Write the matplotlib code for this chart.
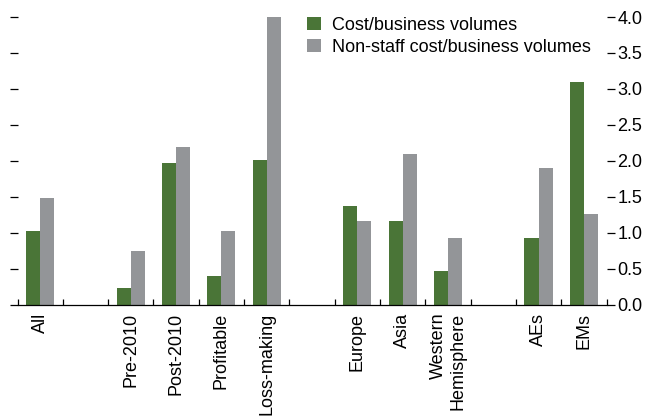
import matplotlib
matplotlib.use("Agg")
import matplotlib.pyplot as plt
import numpy as np

plt.rcParams['font.family'] = ['Liberation Sans Narrow', 'Liberation Sans', 'DejaVu Sans']

categories = ["All", "", "Pre-2010", "Post-2010", "Profitable", "Loss-making", "",
              "Europe", "Asia", "Western\nHemisphere", "", "AEs", "EMs"]
cost = [1.02, np.nan, 0.23, 1.97, 0.40, 2.01, np.nan, 1.37, 1.16, 0.46, np.nan, 0.92, 3.09]
nonstaff = [1.48, np.nan, 0.74, 2.19, 1.02, 4.00, np.nan, 1.16, 2.09, 0.92, np.nan, 1.90, 1.26]
yticks = [0.0, 0.5, 1.0, 1.5, 2.0, 2.5, 3.0, 3.5, 4.0]
series_names = ["Cost/business volumes", "Non-staff cost/business volumes"]

green = "#4a7537"
gray = "#939598"

W, H = 647, 417
fig = plt.figure(figsize=(W / 100, H / 100), dpi=100)
ax = fig.add_axes([17.5 / W, 1 - 304.5 / H, (606.5 - 17.5) / W, (304.5 - 17) / H])

x = np.arange(len(categories))
w = 0.31
ax.bar(x - w / 2, cost, w, color=green, label=series_names[0])
ax.bar(x + w / 2, nonstaff, w, color=gray, label=series_names[1])

ax.set_xlim(-0.5, len(categories) - 0.5)
ax.set_ylim(0, 4.0)

for s in ["top", "left", "right"]:
    ax.spines[s].set_visible(False)
ax.spines["bottom"].set_linewidth(0.9)

ax.set_yticks(yticks)
ax.set_yticklabels([f"{v:.1f}" for v in yticks])
ax.tick_params(axis="y", which="major", left=True, right=True, labelleft=False,
               labelright=True, direction="out", length=5.8, width=0.9,
               pad=2, labelsize=13)

ax.set_xticks(x)
ax.set_xticklabels(categories, rotation=90, fontsize=13, va="top", ha="center",
                   multialignment="right")
ax.set_xticks(np.arange(-0.5, len(categories)), minor=True)
ax.tick_params(axis="x", which="major", length=0, pad=6)
ax.tick_params(axis="x", which="minor", direction="in", length=4.5, width=0.9)

leg = ax.legend(loc="upper left", bbox_to_anchor=(0.492, 1.0), frameon=False,
                fontsize=13, handlelength=0.75, handleheight=0.75,
                handletextpad=0.6, labelspacing=0.25, borderpad=0, borderaxespad=0)

fig.savefig("out.png", dpi=100)
